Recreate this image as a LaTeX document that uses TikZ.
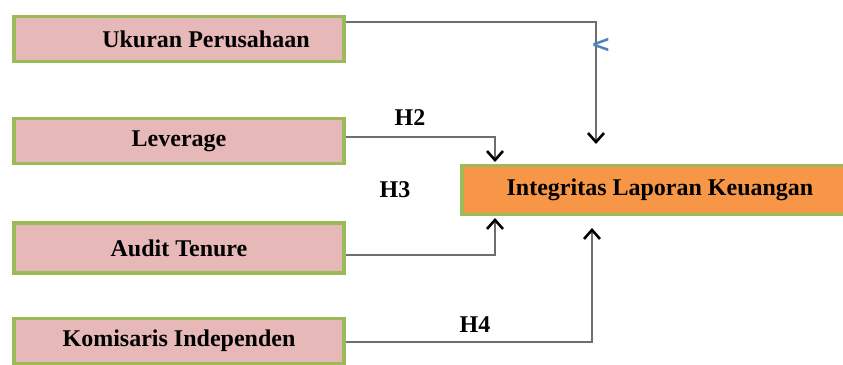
\documentclass[tikz,border=0pt]{standalone}
\usepackage{fontspec}
\setmainfont{Liberation Serif}
\newfontfamily\markfont{DejaVu Sans}
\usetikzlibrary{arrows.meta}
\definecolor{boxgreen}{HTML}{9BBB59}
\definecolor{boxpink}{HTML}{E6B9B8}
\definecolor{boxorange}{HTML}{F79646}
\definecolor{linegray}{HTML}{6E6E6E}
\definecolor{markblue}{HTML}{4F81BD}
\begin{document}
\begin{tikzpicture}[x=0.5pt,y=-0.5pt,
  varbox/.style={draw=boxgreen, line width=1.6pt, fill=boxpink, minimum width=165pt, minimum height=22.5pt, inner sep=0pt, font=\bfseries\fontsize{12}{14}\selectfont},
  depbox/.style={varbox, fill=boxorange, minimum width=198pt, minimum height=24.5pt},
  hlabel/.style={font=\bfseries\fontsize{12}{14}\selectfont, inner sep=0pt},
  conn/.style={draw=linegray, line width=0.75pt, -{Straight Barb[black, length=4.5pt, width=8pt, line width=1.3pt]}}]
\useasboundingbox (0,0) rectangle (843,365);
\clip (0,0) rectangle (843,365);
\node[varbox] (u) at (179,39) {\hspace*{27pt}Ukuran Perusahaan};
\node[varbox] (l) at (179,141) {Leverage};
\node[varbox, minimum height=25pt] (a) at (179,248) {Audit Tenure};
\node[varbox] (k) at (179,341) {Komisaris Independen};
\node[depbox] (y) at (660,190) {Integritas Laporan Keuangan};
\coordinate (tu) at (596,144);
\coordinate (tl) at (495,162);
\coordinate (ta) at (495,218);
\coordinate (tk) at (592,228);
\draw[conn] ([yshift=8.5pt]u.east) -| (tu);
\draw[conn] ([yshift=2pt]l.east) -| (tl);
\draw[conn] ([yshift=-3.5pt]a.east) -| (ta);
\draw[conn] ([yshift=-0.5pt]k.east) -| (tk);
\node[hlabel] (h2) at (410,118) {H2};
\node[hlabel] (h3) at (395,190) {H3};
\node[hlabel] (h4) at (475,325) {H4};
\node[text=markblue, inner sep=0pt, font=\markfont\bfseries\fontsize{12}{14}\selectfont] (mk) at (601,45) {<};
\end{tikzpicture}
\end{document}
